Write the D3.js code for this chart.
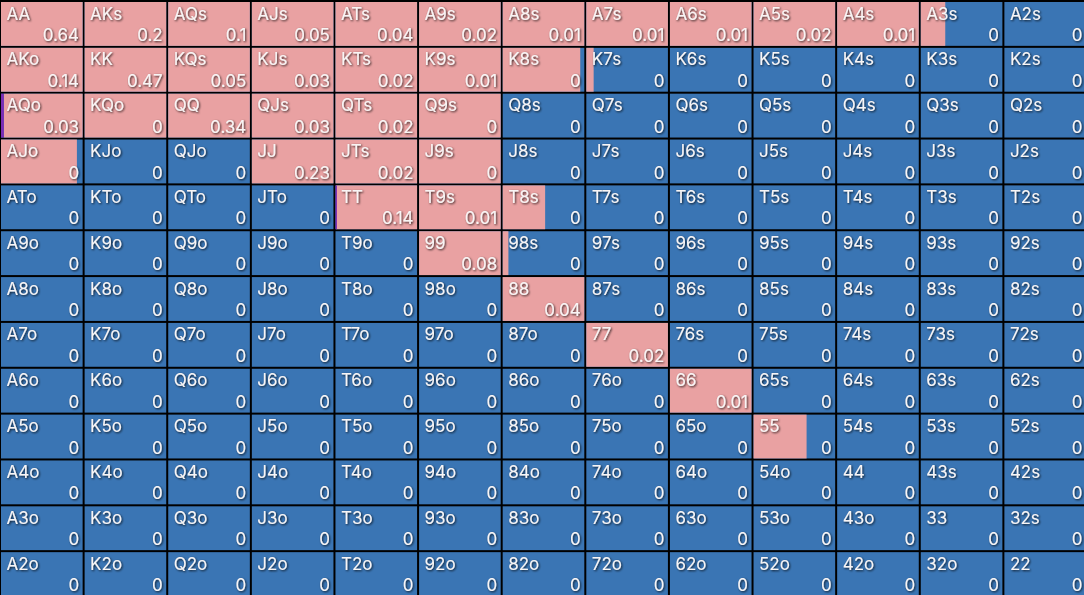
<!DOCTYPE html>
<html>
<head>
<meta charset="utf-8">
<script src="https://cdn.jsdelivr.net/npm/d3@7.9.0/dist/d3.min.js"></script>
<style>
  html, body { margin: 0; padding: 0; background: #000; overflow: hidden; }
  svg { display: block; }
  .lbl { font-family: Inter, "Open Sans", sans-serif; font-size: 17px; fill: #f8f5f5; }
</style>
</head>
<body>
<svg id="grid"></svg>
<script>
const ranks = ['A', 'K', 'Q', 'J', 'T', '9', '8', '7', '6', '5', '4', '3', '2'];

// shown number in each cell (row = first rank, col = second rank)
const values = [
  [0.64, 0.2, 0.1, 0.05, 0.04, 0.02, 0.01, 0.01, 0.01, 0.02, 0.01, 0, 0],
  [0.14, 0.47, 0.05, 0.03, 0.02, 0.01, 0, 0, 0, 0, 0, 0, 0],
  [0.03, 0, 0.34, 0.03, 0.02, 0, 0, 0, 0, 0, 0, 0, 0],
  [0, 0, 0, 0.23, 0.02, 0, 0, 0, 0, 0, 0, 0, 0],
  [0, 0, 0, 0, 0.14, 0.01, 0, 0, 0, 0, 0, 0, 0],
  [0, 0, 0, 0, 0, 0.08, 0, 0, 0, 0, 0, 0, 0],
  [0, 0, 0, 0, 0, 0, 0.04, 0, 0, 0, 0, 0, 0],
  [0, 0, 0, 0, 0, 0, 0, 0.02, 0, 0, 0, 0, 0],
  [0, 0, 0, 0, 0, 0, 0, 0, 0.01, 0, 0, 0, 0],
  [0, 0, 0, 0, 0, 0, 0, 0, 0, 0, 0, 0, 0],
  [0, 0, 0, 0, 0, 0, 0, 0, 0, 0, 0, 0, 0],
  [0, 0, 0, 0, 0, 0, 0, 0, 0, 0, 0, 0, 0],
  [0, 0, 0, 0, 0, 0, 0, 0, 0, 0, 0, 0, 0]
];

// share of each cell that is coloured (purple + pink), the rest is blue
const pinkShare = [
  [1, 1, 1, 1, 1, 1, 1, 1, 1, 1, 1, 0.3, 0],
  [1, 1, 1, 1, 1, 1, 0.95, 0.09, 0, 0, 0, 0, 0],
  [1, 1, 1, 1, 1, 1, 0, 0, 0, 0, 0, 0, 0],
  [0.93, 0, 0, 1, 1, 1, 0, 0, 0, 0, 0, 0, 0],
  [0, 0, 0, 0, 1, 1, 0.52, 0, 0, 0, 0, 0, 0],
  [0, 0, 0, 0, 0, 1, 0.07, 0, 0, 0, 0, 0, 0],
  [0, 0, 0, 0, 0, 0, 1, 0, 0, 0, 0, 0, 0],
  [0, 0, 0, 0, 0, 0, 0, 1, 0, 0, 0, 0, 0],
  [0, 0, 0, 0, 0, 0, 0, 0, 1, 0, 0, 0, 0],
  [0, 0, 0, 0, 0, 0, 0, 0, 0, 0.65, 0, 0, 0],
  [0, 0, 0, 0, 0, 0, 0, 0, 0, 0, 0, 0, 0],
  [0, 0, 0, 0, 0, 0, 0, 0, 0, 0, 0, 0, 0],
  [0, 0, 0, 0, 0, 0, 0, 0, 0, 0, 0, 0, 0]
];

// small purple share, drawn first from the left
const purpleHands = ['AQo', 'TT'];
const purpleShare = [0.035, 0.008];

const colors = { purple: '#7b2cb5', pink: '#e9a1a2', blue: '#3a75b4' };

const width = 1087, height = 597;
const svg = d3.select('#grid').attr('width', 1084).attr('height', 595);

const defs = svg.append('defs');
const shadow = defs.append('filter').attr('id', 'shadow')
  .attr('x', '-20%').attr('y', '-20%').attr('width', '140%').attr('height', '140%');
shadow.append('feDropShadow')
  .attr('dx', 1).attr('dy', 1).attr('stdDeviation', 1)
  .attr('flood-color', '#000').attr('flood-opacity', 0.8);

const x = d3.scaleBand().domain(d3.range(13)).range([0, width]);
const y = d3.scaleBand().domain(d3.range(13)).range([1, height]);

function handName(i, j) {
  if (i === j) return ranks[i] + ranks[j];
  if (j > i) return ranks[i] + ranks[j] + 's';
  return ranks[j] + ranks[i] + 'o';
}

let cells = [];
for (let i = 0; i < 13; i++) {
  for (let j = 0; j < 13; j++) {
    const name = handName(i, j);
    const pIdx = purpleHands.indexOf(name);
    const purple = pIdx >= 0 ? purpleShare[pIdx] : 0;
    cells.push({ row: i, col: j, name: name, value: values[i][j], purple: purple, pink: Math.max(0, pinkShare[i][j] - purple) });
  }
}

const cw = x.bandwidth(), ch = y.bandwidth();
const pad = 1;
const inner = cw - pad * 2;

const g = svg.selectAll('g.cell')
  .data(cells)
  .join('g')
  .attr('class', 'cell')
  .attr('transform', d => `translate(${x(d.col)},${y(d.row)})`);

// blue base
g.append('rect')
  .attr('x', pad).attr('y', pad)
  .attr('width', inner).attr('height', ch - pad * 2)
  .attr('fill', colors.blue);

// pink share
g.append('rect')
  .attr('x', d => pad + d.purple * inner).attr('y', pad)
  .attr('width', d => d.pink * inner).attr('height', ch - pad * 2)
  .attr('fill', colors.pink);

// purple share
g.filter(d => d.purple > 0).append('rect')
  .attr('x', pad).attr('y', pad)
  .attr('width', d => Math.max(1.5, d.purple * inner)).attr('height', ch - pad * 2)
  .attr('fill', colors.purple);

g.append('text')
  .attr('class', 'lbl')
  .attr('x', 6.5).attr('y', 18.5)
  .attr('filter', 'url(#shadow)')
  .text(d => d.name);

g.append('text')
  .attr('class', 'lbl')
  .attr('x', cw - 4.5).attr('y', 40)
  .attr('text-anchor', 'end')
  .attr('filter', 'url(#shadow)')
  .text(d => d.value);
</script>
</body>
</html>
